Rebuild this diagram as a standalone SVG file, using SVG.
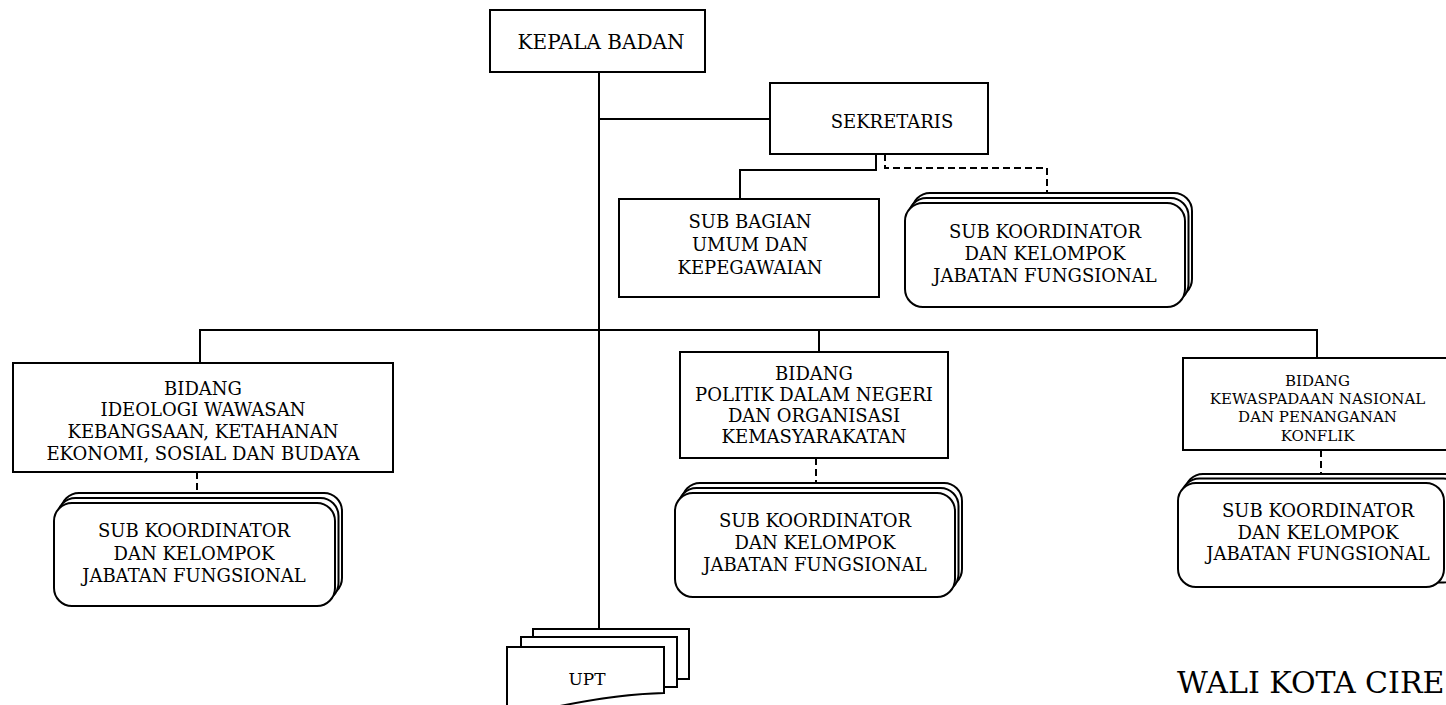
<svg xmlns="http://www.w3.org/2000/svg" width="1446" height="705" viewBox="0 0 1446 705">
<style>
.box{fill:#fff;stroke:#000;stroke-width:2}
.ln{fill:none;stroke:#000;stroke-width:2}
.dash{fill:none;stroke:#000;stroke-width:2;stroke-dasharray:7 4}
text{font-family:"DejaVu Serif","Liberation Serif",serif;font-size:18px;fill:#000;text-anchor:middle}
.sm{font-size:15px}
</style>
<rect width="1446" height="705" fill="#fff"/>
<g id="connectors">
<path class="ln" d="M599,72 V629"/>
<path class="ln" d="M599,119 H770"/>
<path class="ln" d="M876,154 V170 H740 V199"/>
<path class="dash" d="M885,154 V168 H1047 V193"/>
<path class="ln" d="M200,363 V330 H1317 V358"/>
<path class="ln" d="M819,330 V352"/>
<path class="dash" d="M197,472 V493"/>
<path class="dash" d="M816,458 V483"/>
<path class="dash" d="M1321,450 V474"/>
</g>
<g id="kepala">
<rect class="box" x="490" y="10" width="215" height="62"/>
<text x="601" y="49" style="font-size:20px">KEPALA BADAN</text>
</g>
<g id="sekretaris">
<rect class="box" x="770" y="83" width="218" height="71"/>
<text x="892" y="128">SEKRETARIS</text>
</g>
<g id="subbagian">
<rect class="box" x="619" y="199" width="260" height="98"/>
<text x="750" y="228">SUB BAGIAN</text>
<text x="750" y="251">UMUM DAN</text>
<text x="750" y="274">KEPEGAWAIAN</text>
</g>
<g id="subkoor-sekretaris">
<rect class="box" x="912" y="193" width="280" height="104" rx="18"/>
<rect class="box" x="908.5" y="198" width="280" height="104" rx="18"/>
<rect class="box" x="905" y="203" width="280" height="104" rx="18"/>
<text x="1045" y="238">SUB KOORDINATOR</text>
<text x="1045" y="260">DAN KELOMPOK</text>
<text x="1045" y="282">JABATAN FUNGSIONAL</text>
</g>
<g id="bidang-ideologi">
<rect class="box" x="13" y="363" width="380" height="109"/>
<text x="203" y="394.5">BIDANG</text>
<text x="203" y="416">IDEOLOGI WAWASAN</text>
<text x="203" y="438">KEBANGSAAN, KETAHANAN</text>
<text x="203" y="459.5">EKONOMI, SOSIAL DAN BUDAYA</text>
</g>
<g id="subkoor-ideologi">
<rect class="box" x="61" y="493" width="281" height="103" rx="18"/>
<rect class="box" x="57.5" y="498" width="281" height="103" rx="18"/>
<rect class="box" x="54" y="503" width="281" height="103" rx="18"/>
<text x="194" y="537">SUB KOORDINATOR</text>
<text x="194" y="559.5">DAN KELOMPOK</text>
<text x="194" y="581.5">JABATAN FUNGSIONAL</text>
</g>
<g id="bidang-politik">
<rect class="box" x="680" y="352" width="268" height="106"/>
<text x="814" y="379.5">BIDANG</text>
<text x="814" y="400.5">POLITIK DALAM NEGERI</text>
<text x="814" y="421.5">DAN ORGANISASI</text>
<text x="814" y="443">KEMASYARAKATAN</text>
</g>
<g id="subkoor-politik">
<rect class="box" x="682" y="483" width="280" height="104" rx="18"/>
<rect class="box" x="678.5" y="488" width="280" height="104" rx="18"/>
<rect class="box" x="675" y="493" width="280" height="104" rx="18"/>
<text x="815" y="527">SUB KOORDINATOR</text>
<text x="815" y="548.5">DAN KELOMPOK</text>
<text x="815" y="570.5">JABATAN FUNGSIONAL</text>
</g>
<g id="bidang-kewaspadaan">
<rect class="box" x="1183" y="358" width="300" height="92"/>
<text class="sm" x="1317.5" y="385.5">BIDANG</text>
<text class="sm" x="1317.5" y="403.5">KEWASPADAAN NASIONAL</text>
<text class="sm" x="1317.5" y="422">DAN PENANGANAN</text>
<text class="sm" x="1317.5" y="440.5">KONFLIK</text>
</g>
<g id="subkoor-kewaspadaan">
<rect class="box" x="1185" y="474" width="280" height="104" rx="18"/>
<rect class="box" x="1181.5" y="478.5" width="280" height="104" rx="18"/>
<rect class="box" x="1178" y="483" width="266" height="104" rx="18"/>
<text x="1318" y="517">SUB KOORDINATOR</text>
<text x="1318" y="538.5">DAN KELOMPOK</text>
<text x="1318" y="560">JABATAN FUNGSIONAL</text>
</g>
<g id="upt">
<rect class="box" x="533" y="629" width="156" height="50"/>
<rect class="box" x="521" y="637" width="156" height="50"/>
<path class="box" d="M507,647 H664 V693 C625,694 590,700 560,706 C540,710 522,713 507,713 Z"/>
<text x="587" y="685" style="font-size:17px">UPT</text>
</g>
<g id="wali">
<text x="1177" y="693" style="font-size:30px;text-anchor:start">WALI KOTA CIRE</text>
</g>
</svg>
